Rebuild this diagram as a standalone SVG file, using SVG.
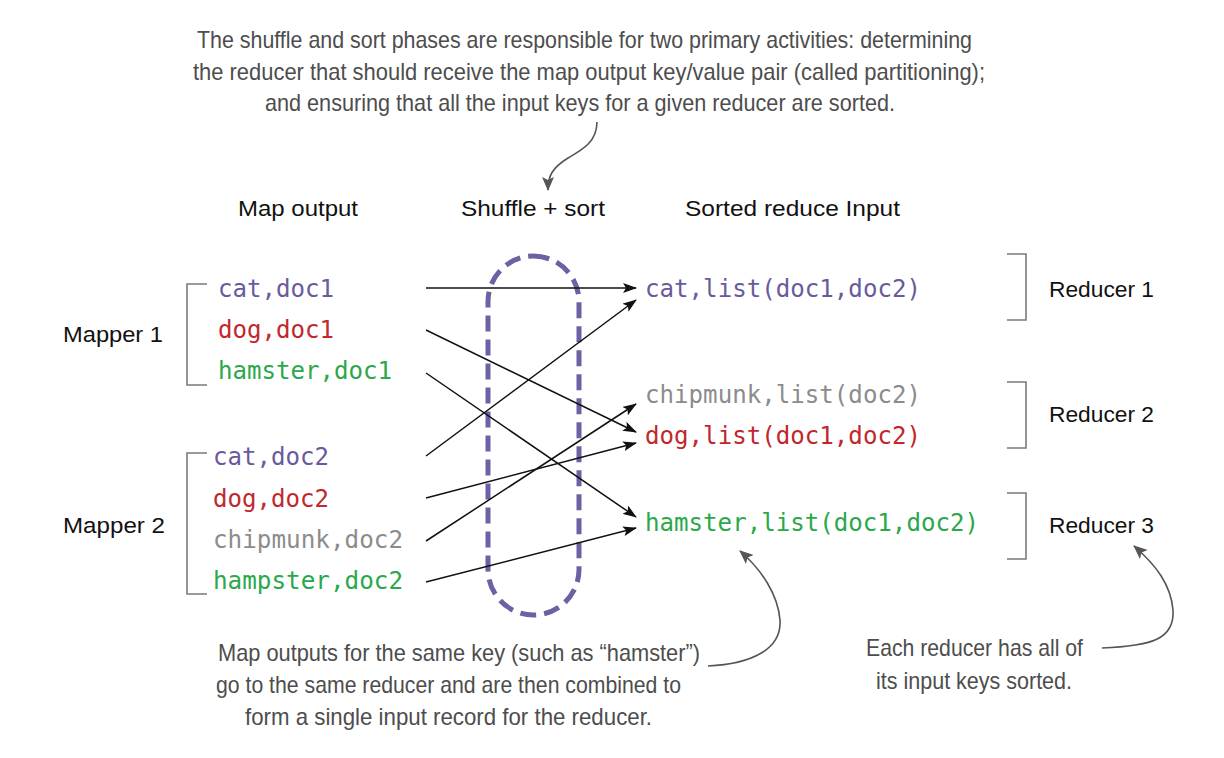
<svg xmlns="http://www.w3.org/2000/svg" width="1224" height="758" viewBox="0 0 1224 758">
<defs>
<style>
.hand{font-family:"Liberation Sans Narrow","Liberation Sans",Arial,sans-serif;font-size:24px;fill:#4d4d4d}
.hdr{font-family:"Liberation Sans",Arial,sans-serif;font-size:22px;fill:#111}
.mono{font-family:"DejaVu Sans Mono","Liberation Mono",monospace;font-size:24px}
.cat{fill:#6a5a9c}.dog{fill:#c1272d}.ham{fill:#2aa84a}.chip{fill:#8c8c8c}
.brk{fill:none;stroke:#7a7a7a;stroke-width:1.6}
.conn{fill:none;stroke:#111;stroke-width:1.5;marker-end:url(#ah)}
.note{fill:none;stroke:#555;stroke-width:1.6;marker-end:url(#ahg)}
</style>
<marker id="ah" markerUnits="userSpaceOnUse" markerWidth="14" markerHeight="10" refX="13" refY="5" orient="auto">
<path d="M0,0 L14,5 L0,10 L3,5 Z" fill="#111"/>
</marker>
<marker id="ahg" markerUnits="userSpaceOnUse" markerWidth="14" markerHeight="12" refX="13" refY="6" orient="auto">
<path d="M0,0 L14,6 L0,12 L3,6 Z" fill="#555"/>
</marker>
</defs>
<rect width="1224" height="758" fill="#fff"/>

<g id="top-note">
<text class="hand" x="197" y="48" textLength="775" lengthAdjust="spacingAndGlyphs">The shuffle and sort phases are responsible for two primary activities: determining</text>
<text class="hand" x="193" y="80" textLength="792" lengthAdjust="spacingAndGlyphs">the reducer that should receive the map output key/value pair (called partitioning);</text>
<text class="hand" x="265" y="111" textLength="630" lengthAdjust="spacingAndGlyphs">and ensuring that all the input keys for a given reducer are sorted.</text>
</g>

<g id="headers">
<text class="hdr" x="238" y="216" textLength="120" lengthAdjust="spacingAndGlyphs">Map output</text>
<text class="hdr" x="461" y="216" textLength="144" lengthAdjust="spacingAndGlyphs">Shuffle + sort</text>
<text class="hdr" x="685" y="216" textLength="215" lengthAdjust="spacingAndGlyphs">Sorted reduce Input</text>
</g>

<g id="mapper1">
<text class="hdr" x="63" y="342" textLength="100" lengthAdjust="spacingAndGlyphs">Mapper 1</text>
<path class="brk" d="M207,284 H187 V385 H207"/>
<text class="mono cat" x="218" y="297" textLength="116" lengthAdjust="spacingAndGlyphs">cat,doc1</text>
<text class="mono dog" x="218" y="338" textLength="116" lengthAdjust="spacingAndGlyphs">dog,doc1</text>
<text class="mono ham" x="218" y="379" textLength="174" lengthAdjust="spacingAndGlyphs">hamster,doc1</text>
</g>

<g id="mapper2">
<text class="hdr" x="63" y="533" textLength="102" lengthAdjust="spacingAndGlyphs">Mapper 2</text>
<path class="brk" d="M207,453 H187 V594 H207"/>
<text class="mono cat" x="213" y="465" textLength="116" lengthAdjust="spacingAndGlyphs">cat,doc2</text>
<text class="mono dog" x="213" y="507" textLength="116" lengthAdjust="spacingAndGlyphs">dog,doc2</text>
<text class="mono chip" x="213" y="548" textLength="190" lengthAdjust="spacingAndGlyphs">chipmunk,doc2</text>
<text class="mono ham" x="213" y="589" textLength="190" lengthAdjust="spacingAndGlyphs">hampster,doc2</text>
</g>

<g id="shuffle-oval">
<rect x="488" y="256" width="91" height="359" rx="45.5" ry="45.5" fill="none" stroke="#6b62a3" stroke-width="5" stroke-dasharray="16 8"/>
</g>

<g id="reducer1">
<text class="mono cat" x="645" y="297" textLength="276" lengthAdjust="spacingAndGlyphs">cat,list(doc1,doc2)</text>
<path class="brk" d="M1007,254 H1026 V320 H1007"/>
<text class="hdr" x="1049" y="297" textLength="105" lengthAdjust="spacingAndGlyphs">Reducer 1</text>
</g>

<g id="reducer2">
<text class="mono chip" x="645" y="403" textLength="276" lengthAdjust="spacingAndGlyphs">chipmunk,list(doc2)</text>
<text class="mono dog" x="645" y="444" textLength="276" lengthAdjust="spacingAndGlyphs">dog,list(doc1,doc2)</text>
<path class="brk" d="M1007,382 H1026 V448 H1007"/>
<text class="hdr" x="1049" y="422" textLength="105" lengthAdjust="spacingAndGlyphs">Reducer 2</text>
</g>

<g id="reducer3">
<text class="mono ham" x="645" y="531" textLength="334" lengthAdjust="spacingAndGlyphs">hamster,list(doc1,doc2)</text>
<path class="brk" d="M1007,493 H1026 V559 H1007"/>
<text class="hdr" x="1049" y="533" textLength="105" lengthAdjust="spacingAndGlyphs">Reducer 3</text>
</g>

<g id="connectors">
<line class="conn" x1="426" y1="288" x2="636" y2="288"/>
<line class="conn" x1="426" y1="330" x2="636" y2="432"/>
<line class="conn" x1="426" y1="373" x2="636" y2="517"/>
<line class="conn" x1="426" y1="456" x2="636" y2="300"/>
<line class="conn" x1="426" y1="498" x2="636" y2="443"/>
<line class="conn" x1="426" y1="541" x2="636" y2="404"/>
<line class="conn" x1="426" y1="582" x2="636" y2="528"/>
<path class="note" d="M597,122 C597,142 582,150 568,158 C552,168 548,176 548,190"/>
<path class="note" d="M708,666 C750,664 782,650 780,620 C778,595 762,570 740,551"/>
<path class="note" d="M1102,648 C1150,646 1175,640 1173,610 C1171,585 1156,565 1134,546"/>
</g>

<g id="bottom-notes">
<text class="hand" x="218" y="661" textLength="482" lengthAdjust="spacingAndGlyphs">Map outputs for the same key (such as “hamster”)</text>
<text class="hand" x="216" y="693" textLength="465" lengthAdjust="spacingAndGlyphs">go to the same reducer and are then combined to</text>
<text class="hand" x="245" y="725" textLength="407" lengthAdjust="spacingAndGlyphs">form a single input record for the reducer.</text>
<text class="hand" x="866" y="656" textLength="217" lengthAdjust="spacingAndGlyphs">Each reducer has all of</text>
<text class="hand" x="876" y="689" textLength="196" lengthAdjust="spacingAndGlyphs">its input keys sorted.</text>
</g>
</svg>
